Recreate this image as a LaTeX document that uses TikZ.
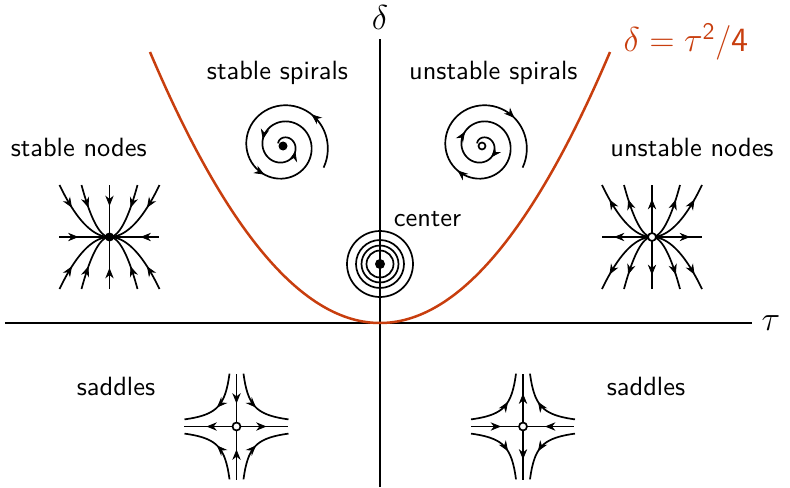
\documentclass[tikz,border=0pt]{standalone}
\usepackage{fontspec}
\setsansfont{lmsans10-regular.otf}
\usetikzlibrary{arrows.meta}
\definecolor{para}{RGB}{200,62,14}
% arrow tip on the spiral, from parameter #1 to #2 (degrees)
\newcommand\sptip[2]{%
  \pgfmathsetmacro\xa{(46-0.045*(#1))*cos((#1)-28)}%
  \pgfmathsetmacro\ya{(46-0.045*(#1))*sin((#1)-28)}%
  \pgfmathsetmacro\xb{(46-0.045*(#2))*cos((#2)-28)}%
  \pgfmathsetmacro\yb{(46-0.045*(#2))*sin((#2)-28)}%
  \path[tipsty] (\xa,\ya) -- (\xb,\yb);}
% arrow tip on a node curve: sign x, sign y, half-width, from, to
\newcommand\nctip[5]{%
  \pgfmathsetmacro\xa{(#1)*(#3)*(1-(#4))}%
  \pgfmathsetmacro\ya{(#2)*52*(1-(#4))*(1-(#4))}%
  \pgfmathsetmacro\xb{(#1)*(#3)*(1-(#5))}%
  \pgfmathsetmacro\yb{(#2)*52*(1-(#5))*(1-(#5))}%
  \path[tipsty] (\xa,\ya) -- (\xb,\yb);}
% arrow tip on a hyperbola: sign x, sign y, from x, to x
\newcommand\hytip[4]{%
  \pgfmathsetmacro\xa{(#1)*(#3)}%
  \pgfmathsetmacro\ya{(#2)*370/(#3)}%
  \pgfmathsetmacro\xb{(#1)*(#4)}%
  \pgfmathsetmacro\yb{(#2)*370/(#4)}%
  \path[tipsty] (\xa,\ya) -- (\xb,\yb);}
\begin{document}
\begin{tikzpicture}[x=0.5pt,y=0.5pt,
  axis/.style={line width=0.75pt},
  traj/.style={line width=0.85pt},
  parab/.style={line width=1.25pt, draw=para},
  lab/.style={font=\sffamily\fontsize{13.2}{15}\selectfont, anchor=base, inner sep=0pt},
  mlab/.style={font=\fontsize{19}{22}\selectfont, inner sep=0pt},
  plab/.style={font=\fontsize{17}{20}\selectfont, text=para, anchor=base, inner sep=0pt},
  fdot/.style={circle, fill, inner sep=0pt, minimum size=4.5pt},
  odot/.style={circle, draw, fill=white, line width=0.85pt, inner sep=0pt, minimum size=4pt},
  anyp/.style={circle, inner sep=0pt, minimum size=0pt},
  tipsty/.style={tips, -{Stealth[length=5.2pt,width=4.2pt]}},
]
\useasboundingbox (-380,-164) rectangle (410,323);
% axes
\coordinate (xl) at (-375,0);
\coordinate (xr) at (372,0);
\coordinate (yb) at (0,-164);
\coordinate (yt) at (0,284);
\draw[axis] (xl) -- (xr);
\draw[axis] (yb) -- (yt);
\node[mlab] (tau) at (391,0) {$\tau$};
\node[mlab] (delta) at (0,305) {$\delta$};
% parabola
\draw[parab] plot[domain=-230:230, samples=120] (\x, {271*((\x)/230)^2});
\node[plab] (plabel) at (306,271) {$\delta=\tau^{\mathsf{2}}/\mathsf{4}$};
% labels
\node[lab] (lss) at (-102.5,243) {stable spirals};
\node[lab] (lus) at (113.3,243) {unstable spirals};
\node[lab] (lsn) at (-301.3,167) {stable nodes};
\node[lab] (lun) at (312,166.5) {unstable nodes};
\node[lab] (lc) at (47.5,97) {center};
\node[lab] (lsl) at (-264,-72) {saddles};
\node[lab] (lsr) at (266,-72) {saddles};
% stable spiral
\node[anyp] (ss) at (-97,177) {};
\begin{scope}[shift={(ss.center)}]
\draw[traj] plot[smooth, domain=0:900, samples=150, variable=\t]
  ({(46-0.045*\t)*cos(\t-28)}, {(46-0.045*\t)*sin(\t-28)});
\foreach \a in {76,265,550,725} {\sptip{\a-2}{\a}}
\end{scope}
\node[fdot] at (ss) {};
% unstable spiral
\node[anyp] (us) at (102,177) {};
\begin{scope}[shift={(us.center)}]
\draw[traj] plot[smooth, domain=0:900, samples=150, variable=\t]
  ({(46-0.045*\t)*cos(\t-28)}, {(46-0.045*\t)*sin(\t-28)});
\foreach \a in {69,253,528,697} {\sptip{\a+2}{\a}}
\end{scope}
\node[odot, minimum size=3.5pt] at (us) {};
% center
\node[anyp] (cc) at (0,59) {};
\foreach \r in {33,24,18.5,13.5} \draw[traj] (cc) circle (\r);
\node[fdot, minimum size=5pt] at (cc) {};
% stable node
\node[anyp] (sn) at (-270.5,86) {};
\begin{scope}[shift={(sn.center)}]
\foreach \sx/\sy/\X in {-1/1/50,-1/1/28,1/1/28,1/1/50,-1/-1/50,-1/-1/28,1/-1/28,1/-1/50}{
  \draw[traj] plot[smooth, domain=0:1, samples=30, variable=\u]
    ({\sx*\X*(1-\u)}, {\sy*52*(1-\u)*(1-\u)});
  \nctip{\sx}{\sy}{\X}{0.23}{0.25}
}
\draw[traj] (-50,0) -- (50,0);
\draw[traj] (0,-52) -- (0,52);
\foreach \d in {0,90,180,270} \path[tipsty] (\d:33) -- (\d:31);
\end{scope}
\node[fdot] at (sn) {};
% unstable node
\node[anyp] (un) at (272,86) {};
\begin{scope}[shift={(un.center)}]
\foreach \sx/\sy/\X in {-1/1/50,-1/1/28,1/1/28,1/1/50,-1/-1/50,-1/-1/28,1/-1/28,1/-1/50}{
  \draw[traj] plot[smooth, domain=0:1, samples=30, variable=\u]
    ({\sx*\X*(1-\u)}, {\sy*52*(1-\u)*(1-\u)});
  \nctip{\sx}{\sy}{\X}{0.17}{0.15}
}
\draw[traj] (-50,0) -- (50,0);
\draw[traj] (0,-52) -- (0,52);
\foreach \d in {0,90,180,270} \path[tipsty] (\d:36) -- (\d:38);
\end{scope}
\node[odot] at (un) {};
% left saddle
\node[anyp] (sl) at (-143.5,-103.5) {};
\begin{scope}[shift={(sl.center)}]
\foreach \sx/\sy in {-1/1,1/1,-1/-1,1/-1}{
  \draw[traj] plot[smooth, domain=7:52, samples=50] ({\sx*\x}, {\sy*370/\x});
  \hytip{\sx}{\sy}{18.5}{19.5}
}
\draw[traj] (-52,0) -- (51,0);
\draw[traj] (0,-53) -- (0,53);
\foreach \d in {90,270} \path[tipsty] (\d:25) -- (\d:23);
\foreach \d in {0,180} \path[tipsty] (\d:28) -- (\d:30);
\end{scope}
\node[odot] at (sl) {};
% right saddle
\node[anyp] (sr) at (143,-103.5) {};
\begin{scope}[shift={(sr.center)}]
\foreach \sx/\sy in {-1/1,1/1,-1/-1,1/-1}{
  \draw[traj] plot[smooth, domain=7:52, samples=50] ({\sx*\x}, {\sy*370/\x});
  \hytip{\sx}{\sy}{16}{15}
}
\draw[traj] (-52,0) -- (51,0);
\draw[traj] (0,-53) -- (0,53);
\foreach \d in {90,270} \path[tipsty] (\d:31) -- (\d:33);
\foreach \d in {0,180} \path[tipsty] (\d:24) -- (\d:22);
\end{scope}
\node[odot] at (sr) {};
\end{tikzpicture}
\end{document}
